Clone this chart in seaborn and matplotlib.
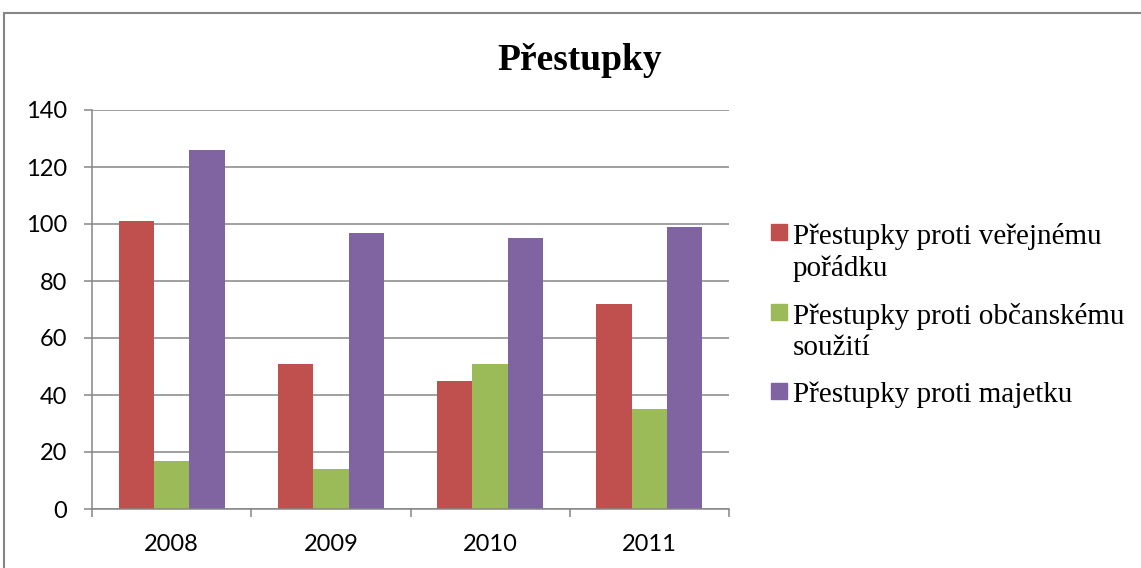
import matplotlib
matplotlib.use("Agg")
import matplotlib.pyplot as plt
import matplotlib.patches as mpatches
import seaborn as sb
import pandas as pd

# data
years = ["2008", "2009", "2010", "2011"]
seriesNames = ["Přestupky proti veřejnému\npořádku",
               "Přestupky proti občanskému\nsoužití",
               "Přestupky proti majetku"]
verejnyPoradek = [101, 51, 45, 72]
obcanskeSouziti = [17, 14, 51, 35]
majetek = [126, 97, 95, 99]
colors = ["#C0504D", "#9BBB59", "#8064A2"]

# long table for seaborn
rows = []
for i, year in enumerate(years):
  rows.append([year, seriesNames[0], verejnyPoradek[i]])
  rows.append([year, seriesNames[1], obcanskeSouziti[i]])
  rows.append([year, seriesNames[2], majetek[i]])
df = pd.DataFrame(rows, columns=["rok", "druh", "pocet"])

sb.set_style("white")
gridColor = "#868686"
W, H = 1141, 568

fig = plt.figure(figsize=(11.41, 5.68), dpi=100)
ax = fig.add_axes([92/W, 59/H, 637/W, 399/H])

sb.barplot(data=df, x="rok", y="pocet", hue="druh", palette=colors,
           width=0.667, ax=ax, edgecolor="none", linewidth=0, saturation=1)

ax.set_ylim(0, 140)
ax.set_xlim(-0.5, 3.5)
ax.set_yticks(range(0, 141, 20))
ax.yaxis.grid(True, color=gridColor, linewidth=1.1)
ax.set_axisbelow(True)
ax.set_xlabel("")
ax.set_ylabel("")

for side in ["top", "right"]:
  ax.spines[side].set_visible(False)
for side in ["left", "bottom"]:
  ax.spines[side].set_color(gridColor)
  ax.spines[side].set_linewidth(1.1)

# tick marks between the groups, like Excel
ax.set_xticks([-0.5, 0.5, 1.5, 2.5, 3.5], minor=True)
ax.tick_params(axis="x", which="major", bottom=True, length=0, pad=18, labelcolor="black")
ax.tick_params(axis="x", which="minor", bottom=True, length=6, width=1.1, color=gridColor, direction="out")
ax.tick_params(axis="y", left=True, length=6, width=1.1, color=gridColor, direction="out",
               pad=12, labelcolor="black")
for lbl in ax.get_xticklabels() + ax.get_yticklabels():
  lbl.set_fontfamily("Lato")
  lbl.set_fontsize(17)

# title
fig.text(580/W, 1 - 60/H, "Přestupky", ha="center", va="center", color="black",
         fontfamily="Liberation Serif", fontweight="bold", fontsize=27)

# legend drawn by hand so the square sits on the first line
ax.get_legend().remove()
squareTops = [224, 304, 383]
for name, c, top in zip(seriesNames, colors, squareTops):
  fig.patches.append(mpatches.Rectangle((771/W, 1 - (top + 16)/H), 16/W, 16/H,
                                        transform=fig.transFigure, color=c))
  fig.text(793/W, 1 - (top - 1)/H, name, ha="left", va="top", color="black",
           fontfamily="Liberation Serif", fontsize=21, linespacing=1.26)

# outer chart frame
frame = mpatches.Rectangle((4/W, -0.05), 1.2, (H - 13)/H + 0.05,
                           transform=fig.transFigure, fill=False,
                           edgecolor=gridColor, linewidth=1.5)
fig.patches.append(frame)

fig.savefig("out.png", dpi=100)
